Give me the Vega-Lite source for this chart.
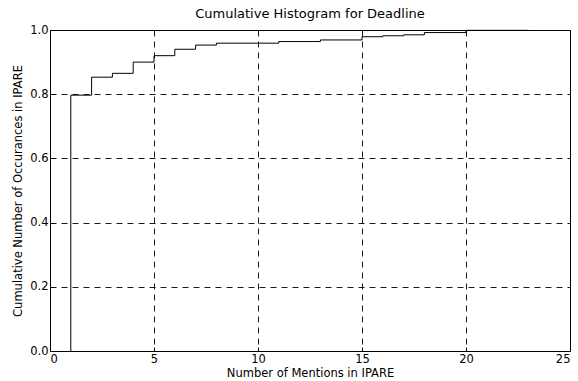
{
  "$schema": "https://vega.github.io/schema/vega-lite/v6.json",
  "autosize": "none",
  "width": 520,
  "height": 321,
  "padding": {"left": 50, "top": 30, "right": 8, "bottom": 30},
  "background": "white",
  "title": {"text": "Cumulative Histogram for Deadline", "font": "DejaVu Sans", "fontSize": 13, "fontWeight": "normal", "color": "black", "offset": 3},
  "config": {
    "view": {"stroke": "black", "strokeWidth": 1},
    "axis": {
      "labelFont": "DejaVu Sans", "labelFontSize": 11.5, "labelColor": "black",
      "titleFont": "DejaVu Sans", "titleFontSize": 11.5, "titleFontWeight": "normal", "titleColor": "black",
      "domainColor": "black", "tickColor": "black", "tickSize": -4,
      "grid": true, "gridColor": "black", "gridDash": [6, 5], "gridOpacity": 1, "gridWidth": 0.9
    }
  },
  "data": {"values": [
    {"x": 1, "y": 0},
    {"x": 1, "y": 0.797},
    {"x": 2, "y": 0.853},
    {"x": 3, "y": 0.865},
    {"x": 4, "y": 0.9},
    {"x": 5, "y": 0.92},
    {"x": 6, "y": 0.94},
    {"x": 7, "y": 0.953},
    {"x": 8, "y": 0.959},
    {"x": 11, "y": 0.964},
    {"x": 13, "y": 0.969},
    {"x": 15, "y": 0.979},
    {"x": 16, "y": 0.982},
    {"x": 17, "y": 0.985},
    {"x": 18, "y": 0.992},
    {"x": 20, "y": 0.999},
    {"x": 23, "y": 0.999}
  ]},
  "mark": {"type": "line", "interpolate": "step-after", "color": "black", "strokeWidth": 1},
  "encoding": {
    "x": {"field": "x", "type": "quantitative", "scale": {"domain": [0, 25], "nice": false},
      "axis": {"title": "Number of Mentions in IPARE", "values": [0, 5, 10, 15, 20, 25], "labelPadding": 6, "titlePadding": 3}},
    "y": {"field": "y", "type": "quantitative", "scale": {"domain": [0, 1], "nice": false},
      "axis": {"title": "Cumulative Number of Occurances in IPARE", "values": [0, 0.2, 0.4, 0.6, 0.8, 1.0], "format": ".1f", "labelPadding": 6, "titlePadding": 6}}
  }
}
